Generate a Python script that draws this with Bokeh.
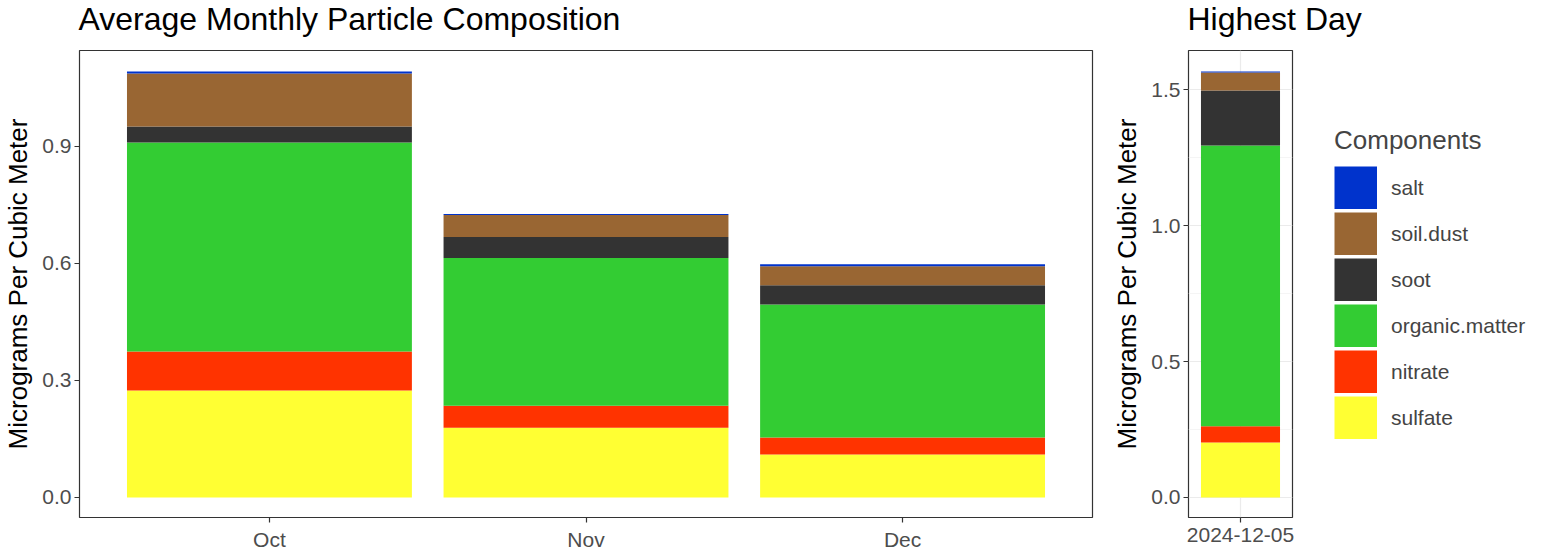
from bokeh.plotting import figure
from bokeh.layouts import row
from bokeh.models import (ColumnDataSource, Range1d, FixedTicker, NumeralTickFormatter,
                          Legend, LegendItem, Title)
from bokeh.embed import file_html
from bokeh.resources import INLINE

# ---------------- data ----------------
months = ["Oct", "Nov", "Dec"]
components = ["sulfate", "nitrate", "organic.matter", "soot", "soil.dust", "salt"]
colors = ["#FFFF33", "#FF3300", "#33CC33", "#333333", "#996633", "#0033CC"]

sulfate = [0.274, 0.179, 0.110]
nitrate = [0.100, 0.056, 0.044]
organic_matter = [0.536, 0.379, 0.341]
soot = [0.041, 0.054, 0.049]
soil_dust = [0.136, 0.056, 0.049]
salt = [0.005, 0.003, 0.005]

high_day = ["2024-12-05"]
high_sulfate = [0.202]
high_nitrate = [0.060]
high_organic_matter = [1.033]
high_soot = [0.202]
high_soil_dust = [0.067]
high_salt = [0.003]

left_ticks = [0.0, 0.3, 0.6, 0.9]
right_ticks = [0.0, 0.5, 1.0, 1.5]
right_minor = [0.25, 0.75, 1.25]

FONT = "Liberation Sans"
TICK_COLOR = "#4D4D4D"
FRAME_COLOR = "#333333"
FRAME_H = 467


def style(p):
    p.outline_line_color = FRAME_COLOR
    p.outline_line_width = 1.2
    p.background_fill_color = "white"
    p.border_fill_color = "white"
    for ax in (p.xaxis, p.yaxis):
        ax.axis_line_color = None
        ax.major_tick_line_color = FRAME_COLOR
        ax.major_tick_line_width = 1.2
        ax.major_tick_out = 5
        ax.major_tick_in = 0
        ax.minor_tick_line_color = None
        ax.major_label_text_color = TICK_COLOR
        ax.major_label_text_font = FONT
        ax.major_label_text_font_size = "21px"
        ax.major_label_standoff = 3
    p.xaxis.major_label_standoff = 5
    p.yaxis.axis_label = "Micrograms Per Cubic Meter"
    p.yaxis.axis_label_text_font = FONT
    p.yaxis.axis_label_text_font_size = "26px"
    p.yaxis.axis_label_text_font_style = "normal"
    p.yaxis.axis_label_text_color = "black"
    p.yaxis.axis_label_standoff = 6
    p.yaxis.formatter = NumeralTickFormatter(format="0.0")
    p.title.text_font = FONT
    p.title.text_font_size = "32px"
    p.title.text_font_style = "normal"
    p.title.text_color = "black"
    p.title.offset = -1
    p.title.standoff = 0
    p.title.vertical_align = "top"
    # blank spacer between the title and the frame
    p.add_layout(Title(text=" ", text_font_size="1px", standoff=9), "above")


# ---------------- left panel ----------------
xpos = list(range(1, len(months) + 1))
src1 = ColumnDataSource(dict(x=xpos, sulfate=sulfate, nitrate=nitrate,
                             **{"organic.matter": organic_matter}, soot=soot,
                             **{"soil.dust": soil_dust}, salt=salt))

p1 = figure(frame_width=1013, frame_height=FRAME_H, output_backend="svg", toolbar_location=None,
            x_range=Range1d(0.4, len(months) + 0.6), y_range=Range1d(-0.0513, 1.146),
            title="Average Monthly Particle Composition",
            min_border_left=78, min_border_right=5, min_border_top=50, min_border_bottom=29)
p1.vbar_stack(components, x="x", width=0.9, color=colors, line_color=None, source=src1)
style(p1)
p1.xaxis.ticker = FixedTicker(ticks=xpos)
p1.xaxis.major_label_overrides = {x: m for x, m in zip(xpos, months)}
p1.yaxis.ticker = FixedTicker(ticks=left_ticks)
p1.xgrid.grid_line_color = None
p1.ygrid.grid_line_color = None

# ---------------- right panel ----------------
src2 = ColumnDataSource(dict(x=[0], sulfate=high_sulfate, nitrate=high_nitrate,
                             **{"organic.matter": high_organic_matter}, soot=high_soot,
                             **{"soil.dust": high_soil_dust}, salt=high_salt))

p2 = figure(frame_width=104, frame_height=FRAME_H, output_backend="svg", toolbar_location=None,
            x_range=Range1d(-0.592, 0.592), y_range=Range1d(-0.0736, 1.6446),
            title="Highest Day",
            min_border_left=91, min_border_right=245, min_border_top=50, min_border_bottom=29)
rs = p2.vbar_stack(components, x="x", width=0.9, color=colors, line_color=None, source=src2)
style(p2)
p2.xaxis.ticker = FixedTicker(ticks=[0])
p2.xaxis.major_label_overrides = {0: high_day[0]}
p2.yaxis.ticker = FixedTicker(ticks=right_ticks, minor_ticks=right_minor)
p2.xgrid.grid_line_color = "#EBEBEB"
p2.xgrid.grid_line_width = 1.2
p2.ygrid.grid_line_color = "#EBEBEB"
p2.ygrid.grid_line_width = 1.2
p2.ygrid.minor_grid_line_color = "#F2F2F2"
p2.ygrid.minor_grid_line_width = 0.8

# legend keys: single-point thick lines (draw nothing in the plot) give full-size swatches
key_renderers = [p2.line(x="x", y=c, source=src2, line_width=43, line_color=col,
                         line_cap="butt")
                 for c, col in zip(components, colors)]
items = [LegendItem(label=c, renderers=[r]) for c, r in zip(components, key_renderers)][::-1]
legend = Legend(items=items, title="Components", location=(42, 78),
                glyph_width=43, glyph_height=43, spacing=3, label_standoff=14,
                margin=0, padding=0, border_line_color=None, background_fill_alpha=0,
                label_text_font=FONT, label_text_font_size="21px",
                title_text_font=FONT, title_text_font_size="26px", title_text_font_style="normal",
                title_standoff=10)
p2.add_layout(legend, "right")

layout = row(p1, p2)
open("out.html", "w").write(file_html(layout, INLINE))
